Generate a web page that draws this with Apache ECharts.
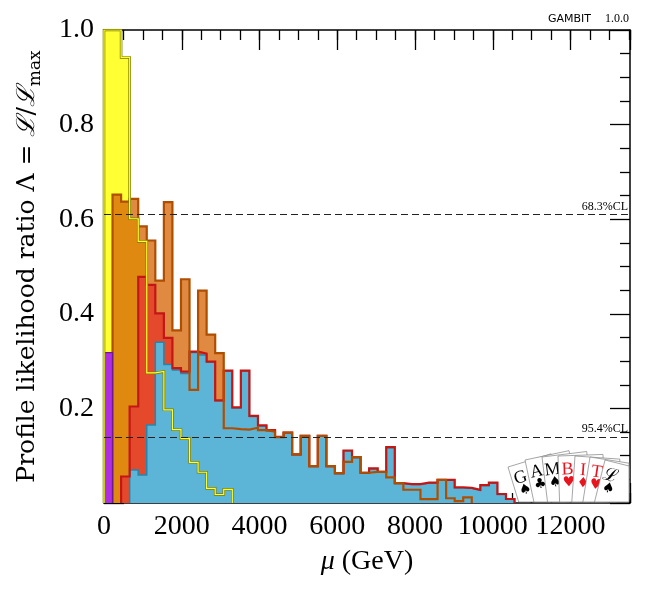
<!DOCTYPE html>
<html lang="en">
<head>
<meta charset="UTF-8">
<title>Profile likelihood mu</title>
<script src="https://cdn.jsdelivr.net/npm/echarts@6/dist/echarts.min.js"></script>
<style>
    html, body { margin: 0; padding: 0; background: #fff; }
    #chart { width: 650px; height: 600px; }
</style>
</head>
<body>
<div id="chart"></div>
<script>
    // histogram binning (GeV), every series starts at mu = 0
    const binWidth = 220;
    const xMax = 13530;

    // profile likelihood per bin
    const purpleVals = [0.318];
    const yellowVals = [1.0, 1.0, 0.942, 0.601, 0.553, 0.275, 0.278, 0.197, 0.155, 0.136, 0.086, 0.065, 0.031, 0.018, 0.029];
    const orangeVals = [0, 0.652, 0.637, 0.643, 0.585, 0.555, 0.470, 0.636, 0.365, 0.473,
        0.239, 0.449, 0.356, 0.317, 0.158, 0.156, 0.155, 0.159, 0.154, 0.151,
        0.139, 0.149, 0.103, 0.142, 0.078, 0.142, 0.078, 0.063, 0.087, 0.097,
        0.064, 0.066, 0.066, 0.054, 0.042, 0.028, 0.028, 0.008, 0.008, 0.049,
        0.010, 0.004, 0.012];
    const redVals = [0, 0, 0.056, 0.204, 0.478, 0.461, 0.401, 0.349, 0.285, 0.278,
        0.320, 0.316, 0.299, 0.217, 0.280, 0.202, 0.280, 0.184, 0.164, 0.154,
        0.140, 0.149, 0.103, 0.142, 0.078, 0.142, 0.078, 0.063, 0.111, 0.097,
        0.064, 0.073, 0.066, 0.118, 0.042, 0.040, 0.040, 0.043, 0.043, 0.049,
        0.049, 0.033, 0.032, 0.028, 0.038, 0.043, 0.019, 0.0085];
    const blueVals = [0, 0, 0, 0.070, 0.059, 0.165, 0.340, 0.293, 0.281, 0.274,
        0.318, 0.313, 0.298, 0.216, 0.279, 0.201, 0.279, 0.183, 0.163, 0.153,
        0.139, 0.148, 0.102, 0.141, 0.077, 0.141, 0.077, 0.062, 0.110, 0.096,
        0.063, 0.072, 0.065, 0.117, 0.041, 0.039, 0.039, 0.042, 0.042, 0.048,
        0.048, 0.032, 0.031, 0.027, 0.037, 0.042, 0.018, 0.008];

    const clLevels = [0.6065, 0.1353];
    const clLabels = ['68.3%CL', '95.4%CL'];

    // GAMBIT logo cards
    const cardLetters = ['G', 'A', 'M', 'B', 'I', 'T', 'ℒ'];
    const cardSuits = ['♠', '♣', '♠', '♥', '♦', '♥', '♠'];
    const cardRed = [false, false, false, true, true, true, false];

    const serif = "'Liberation Serif', 'DejaVu Serif', serif";
    const wideSerif = "'DejaVu Serif', 'Liberation Serif', serif";

    // turn bin values into step points (trim empty bins at both ends)
    function histPoints(vals) {
        let first = 0, last = vals.length - 1;
        while (first < vals.length && !vals[first]) first++;
        while (last > first && !vals[last]) last--;
        const pts = [[first * binWidth, 0]];
        for (let k = first; k <= last; k++) pts.push([k * binWidth, vals[k]]);
        pts.push([(last + 1) * binWidth, vals[last]]);
        pts.push([(last + 1) * binWidth, 0]);
        return pts;
    }

    function fillSeries(vals, color) {
        return {
            type: 'line', step: 'end', symbol: 'none', silent: true,
            data: histPoints(vals),
            lineStyle: {width: 0},
            areaStyle: {color: color, opacity: 1}
        };
    }

    function lineSeries(vals, color, width) {
        return {
            type: 'line', step: 'end', symbol: 'none', silent: true,
            data: histPoints(vals),
            lineStyle: {color: color, width: width, join: 'miter'}
        };
    }

    const series = [
        fillSeries(yellowVals, '#ffff33'),
        fillSeries(orangeVals, 'rgba(214,102,8,0.77)'),
        fillSeries(redVals, '#e4492b'),
        fillSeries(blueVals, '#5cb5d6'),
        fillSeries(purpleVals, '#b12de4'),
        lineSeries(blueVals, '#2586ad', 1.5),
        lineSeries(redVals, '#c51616', 2.2),
        lineSeries(orangeVals, '#b04e00', 2.2),
        lineSeries(purpleVals, '#6e1896', 1.2),
        lineSeries(yellowVals, '#7d7d00', 2.6),
        lineSeries(yellowVals, '#ffff33', 1.2)
    ];
    series.push({
        type: 'line', data: [], symbol: 'none', silent: true,
        markLine: {
            silent: true, symbol: 'none', animation: false,
            lineStyle: {color: '#222', type: [7, 4], width: 1.2},
            label: {
                position: 'insideEndTop', distance: 2, color: '#000',
                fontFamily: serif, fontSize: 12,
                formatter: p => clLabels[p.dataIndex]
            },
            data: clLevels.map(v => ({yAxis: v}))
        }
    });

    // cards of the logo, clipped to the plot area
    const grid = {left: 104, right: 20, top: 30, bottom: 97};
    const plotBottom = 600 - grid.bottom - 1;
    const plotRight = 650 - grid.right - 1;
    const cardCorners = [[508, 467], [525, 460], [542, 457], [558, 456], [575, 456], [590, 457], [605, 460]];
    const cardAngles = [17, 12, 7, 2, -4, -9, -14];

    function clipEdge(pts, isIn, cut) {
        const out = [];
        for (let i = 0; i < pts.length; i++) {
            const a = pts[i], b = pts[(i + 1) % pts.length];
            const ina = isIn(a), inb = isIn(b);
            if (ina) out.push(a);
            if (ina !== inb) out.push(cut(a, b));
        }
        return out;
    }

    const graphics = [];
    cardLetters.forEach((letter, i) => {
        const th = cardAngles[i] * Math.PI / 180;
        const r = [Math.cos(th), -Math.sin(th)];
        const d = [Math.sin(th), Math.cos(th)];
        const tl = cardCorners[i];
        const W = 45, H = 80;
        const at = (u, v) => [tl[0] + r[0] * u + d[0] * v, tl[1] + r[1] * u + d[1] * v];
        let poly = [at(0, 0), at(W, 0), at(W, H), at(0, H)];
        poly = clipEdge(poly, p => p[1] <= plotBottom, (a, b) => {
            const t = (plotBottom - a[1]) / (b[1] - a[1]);
            return [a[0] + t * (b[0] - a[0]), plotBottom];
        });
        poly = clipEdge(poly, p => p[0] <= plotRight, (a, b) => {
            const t = (plotRight - a[0]) / (b[0] - a[0]);
            return [plotRight, a[1] + t * (b[1] - a[1])];
        });
        const col = cardRed[i] ? '#e8141e' : '#000';
        const lp = at(9, 14), sp = at(10, 27);
        graphics.push({
            type: 'polygon', z: 100 + i * 3, silent: true,
            shape: {points: poly},
            style: {fill: '#fff', stroke: '#808080', lineWidth: 0.7}
        });
        graphics.push({
            type: 'text', z: 101 + i * 3, silent: true, x: lp[0], y: lp[1], rotation: th,
            style: {text: letter, fill: col, font: '18px ' + serif,
                textAlign: 'center', textVerticalAlign: 'middle', align: 'center', verticalAlign: 'middle'}
        });
        graphics.push({
            type: 'text', z: 102 + i * 3, silent: true, x: sp[0], y: sp[1], rotation: th,
            style: {text: cardSuits[i], fill: col, font: '14px DejaVu Sans',
                textAlign: 'center', textVerticalAlign: 'middle', align: 'center', verticalAlign: 'middle'}
        });
    });
    graphics.push({
        type: 'text', silent: true, x: 591, y: 19,
        style: {text: 'GAMBIT', fill: '#000', font: '11px DejaVu Sans',
            textAlign: 'right', textVerticalAlign: 'middle', align: 'right', verticalAlign: 'middle'}
    });
    graphics.push({
        type: 'text', silent: true, x: 629, y: 19,
        style: {text: '1.0.0', fill: '#000', font: '12px ' + serif,
            textAlign: 'right', textVerticalAlign: 'middle', align: 'right', verticalAlign: 'middle'}
    });

    const tickLine = {color: '#000', width: 1.3};
    function xAx(pos, interval, len, labels, line) {
        return {
            type: 'value', position: pos, min: 0, max: xMax, interval: interval,
            axisLine: {show: line, onZero: false, lineStyle: {color: '#000', width: 1.5}},
            axisTick: {show: true, inside: true, length: len, lineStyle: tickLine},
            axisLabel: labels ? {
                show: true, color: '#000', fontFamily: serif, fontSize: 28, margin: 10,
                formatter: v => v > 12000 ? '' : String(v)
            } : {show: false},
            splitLine: {show: false}
        };
    }
    function yAx(pos, labels) {
        return {
            type: 'value', position: pos, min: 0, max: 1, interval: 0.2,
            axisLine: {show: true, onZero: false, lineStyle: {color: '#000', width: 1.5}},
            axisTick: {show: true, inside: true, length: 20, lineStyle: tickLine},
            minorTick: {show: true, splitNumber: 4, length: 10, lineStyle: tickLine},
            axisLabel: labels ? {
                show: true, color: '#000', fontFamily: serif, fontSize: 28, margin: 10,
                formatter: v => v === 0 ? '' : v.toFixed(1)
            } : {show: false},
            splitLine: {show: false}
        };
    }

    const xAxes = [
        xAx('bottom', 2000, 20, true, true),
        xAx('bottom', 500, 10, false, false),
        xAx('top', 2000, 20, false, true),
        xAx('top', 500, 10, false, false)
    ];
    xAxes[0].name = '{i|μ} (GeV)';
    xAxes[0].nameLocation = 'middle';
    xAxes[0].nameGap = 45;
    xAxes[0].nameTextStyle = {
        color: '#000', fontFamily: serif, fontSize: 28,
        rich: {i: {fontStyle: 'italic', fontFamily: serif, fontSize: 28, color: '#000'}}
    };

    const yAxes = [yAx('left', true), yAx('right', false)];
    yAxes[0].name = 'Profile likelihood ratio Λ = {s|ℒ}/{s|ℒ}{m|max}';
    yAxes[0].nameLocation = 'middle';
    yAxes[0].nameGap = 60;
    yAxes[0].nameTextStyle = {
        color: '#000', fontFamily: wideSerif, fontSize: 25, lineHeight: 34,
        rich: {
            s: {fontFamily: wideSerif, fontStyle: 'italic', fontSize: 25, lineHeight: 34, color: '#000'},
            m: {fontFamily: wideSerif, fontSize: 17, lineHeight: 17, color: '#000', verticalAlign: 'bottom'}
        }
    };

    const chart = echarts.init(document.getElementById('chart'));
    chart.setOption({
        animation: false,
        backgroundColor: '#fff',
        grid: grid,
        xAxis: xAxes,
        yAxis: yAxes,
        series: series,
        graphic: graphics
    });
</script>
</body>
</html>
